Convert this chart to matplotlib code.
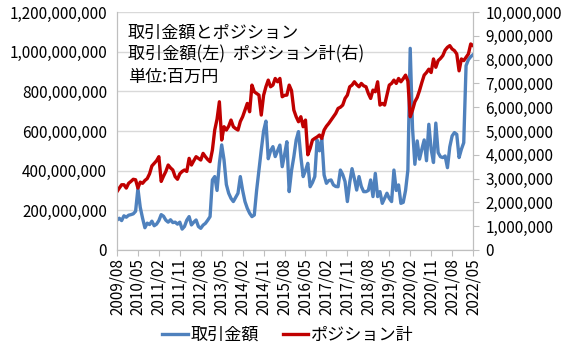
import matplotlib
matplotlib.use("Agg")
import matplotlib.pyplot as plt
import matplotlib.ticker as mticker
import numpy as np
import pandas as pd

plt.rcParams['font.family'] = ['Noto Sans CJK JP', 'DejaVu Sans']

# 月次 2009/08 - 2022/05
months = pd.date_range('2009-08-01', '2022-05-01', freq='MS')

# 取引金額 (百万単位, 左軸)
torihiki = [
    150, 160, 148, 172, 165, 175, 178, 182, 195, 310,
    215, 160, 112, 135, 128, 145, 122, 130, 148, 178,
    170, 150, 140, 152, 138, 140, 130, 140, 105, 118,
    150, 168, 126, 140, 151, 118, 109, 125, 134, 150,
    168, 353, 370, 300, 437, 530, 454, 330, 286, 260,
    244, 265, 286, 370, 300, 244, 210, 185, 168, 176,
    300, 403, 504, 600, 650, 460, 500, 521, 471, 500,
    529, 420, 480, 546, 294, 400, 470, 555, 597, 471,
    370, 400, 437, 319, 340, 370, 555, 500, 563, 378,
    336, 350, 353, 328, 320, 319, 403, 380, 345, 244,
    340, 410, 360, 302, 370, 320, 294, 294, 300, 353,
    269, 386, 269, 294, 235, 260, 286, 260, 244, 403,
    300, 328, 235, 240, 300, 403, 1017, 613, 432, 550,
    458, 508, 555, 450, 634, 508, 441, 640, 491, 470,
    466, 474, 415, 520, 575, 592, 583, 466, 508, 541,
    930, 960, 975, 985,
]

# ポジション計 (百万単位, 右軸)
position = [
    2.45, 2.60, 2.74, 2.74, 2.60, 2.80, 2.88, 2.97, 2.95, 2.60,
    2.85, 2.80, 2.92, 3.00, 3.20, 3.53, 3.64, 3.75, 3.92, 2.88,
    3.10, 3.30, 3.57, 3.45, 3.36, 3.08, 2.97, 3.20, 3.30, 3.36,
    3.30, 3.85, 3.57, 3.75, 3.92, 3.85, 3.78, 4.06, 3.92, 3.80,
    3.71, 4.20, 5.04, 5.50, 6.23, 4.62, 5.18, 5.04, 5.20, 5.46,
    5.18, 5.10, 5.04, 5.40, 5.60, 5.88, 6.16, 5.81, 6.93, 6.65,
    6.58, 6.51, 5.67, 6.50, 6.86, 7.14, 6.86, 6.93, 7.21, 7.07,
    7.21, 6.44, 6.50, 6.51, 6.93, 6.70, 5.88, 5.60, 5.39, 5.60,
    5.18, 5.46, 4.00, 4.27, 4.62, 4.69, 4.75, 4.83, 4.69, 5.04,
    5.20, 5.32, 5.46, 5.60, 5.74, 5.95, 6.00, 6.09, 6.37, 6.51,
    6.86, 6.93, 7.07, 6.95, 6.86, 7.00, 6.90, 6.86, 6.58, 6.37,
    6.72, 6.65, 7.07, 6.09, 6.16, 6.09, 6.51, 6.93, 7.00, 7.14,
    7.00, 7.21, 7.07, 7.20, 7.35, 7.10, 5.60, 5.88, 6.23, 6.41,
    6.70, 7.04, 7.35, 7.46, 7.60, 7.46, 8.03, 7.68, 7.96, 8.05,
    8.17, 8.40, 8.52, 8.59, 8.45, 8.38, 8.24, 7.53, 8.03, 7.96,
    8.10, 8.24, 8.66, 8.59,
]

title_lines = ['取引金額とポジション', '取引金額(左)  ポジション計(右)', '単位:百万円']

blue = '#4F81BD'
red = '#C00000'
grid_c = '#D9D9D9'
spine_c = '#BFBFBF'

x = np.arange(len(months))
y_left = np.array(torihiki) * 1e6
y_right = np.array(position) * 1e6

fig = plt.figure(figsize=(5.67, 3.56), dpi=100)
ax = fig.add_axes([0.2063, 0.298, 0.628, 0.668])
ax2 = ax.twinx()

l1, = ax.plot(x, y_left, color=blue, lw=2.4, label='取引金額')
l2, = ax2.plot(x, y_right, color=red, lw=2.4, label='ポジション計')

ax.set_xlim(0, len(x) - 1)
ax.set_ylim(0, 1.2e9)
ax2.set_ylim(0, 1e7)
ax.yaxis.set_major_locator(mticker.MultipleLocator(2e8))
ax2.yaxis.set_major_locator(mticker.MultipleLocator(1e6))
fmt = mticker.FuncFormatter(lambda v, p: f'{v:,.0f}')
ax.yaxis.set_major_formatter(fmt)
ax2.yaxis.set_major_formatter(fmt)

tick_pos = x[::9]
ax.set_xticks(tick_pos)
ax.set_xticklabels([months[i].strftime('%Y/%m') for i in tick_pos], rotation=90)

ax.grid(axis='y', color=grid_c, lw=1)
ax.set_axisbelow(True)

for a in (ax, ax2):
    a.spines['top'].set_visible(False)
    for s in ('left', 'right', 'bottom'):
        a.spines[s].set_color(spine_c)
ax.tick_params(axis='y', length=0, pad=7, labelsize=11)
ax.tick_params(axis='x', length=4, color=spine_c, pad=2, labelsize=11)
ax2.tick_params(axis='y', length=4, color=spine_c, pad=5, labelsize=11)

ty = [0.907, 0.846, 0.784]
for t, yy in zip(title_lines, ty):
    fig.text(0.2257, yy, t, fontsize=12.3, va='center', ha='left')

fig.legend(handles=[l1, l2], loc='center', bbox_to_anchor=(0.508, 0.06),
           ncol=2, frameon=False, fontsize=12.3, handlelength=1.5,
           columnspacing=1.4, handletextpad=0.15)

fig.savefig('out.png', dpi=100)
